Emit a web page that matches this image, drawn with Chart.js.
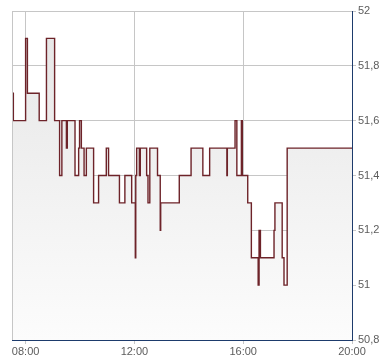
<!DOCTYPE html>
<html><head><meta charset="utf-8">
<style>html,body{margin:0;padding:0;background:#fff}</style>
<script src="https://cdn.jsdelivr.net/npm/chart.js@4/dist/chart.umd.min.js"></script>
</head><body>
<canvas id="c" width="390" height="364"></canvas>
<script>
const times = ["07:30","07:33","08:00","08:04","08:30","08:46","09:04","09:15","09:20","09:30","09:32","09:49","09:57","09:59","10:03","10:09","10:14","10:30","10:41","10:58","11:03","11:27","11:39","11:54","12:02","12:03","12:05","12:11","12:13","12:27","12:30","12:34","12:51","12:57","12:58","13:39","14:05","14:31","14:46","15:24","15:25","15:42","15:46","15:56","15:58","16:10","16:18","16:33","16:35","16:38","17:08","17:10","17:26","17:30","17:37","20:00"];
const prices = [51.7,51.6,51.9,51.7,51.6,51.9,51.6,51.4,51.6,51.5,51.6,51.4,51.5,51.6,51.5,51.4,51.5,51.3,51.4,51.5,51.4,51.3,51.4,51.3,51.1,51.4,51.5,51.4,51.5,51.4,51.3,51.5,51.4,51.2,51.3,51.4,51.5,51.4,51.5,51.4,51.5,51.6,51.4,51.6,51.4,51.3,51.1,51.0,51.2,51.1,51.2,51.3,51.1,51.0,51.5,51.5];
const xTickHours = [8,12,16,20];
const xRange = [7.5, 20];
const yRange = [50.8, 52];
const yStep = 0.2;

const toHours = t => { const [h,m] = t.split(":").map(Number); return h + m/60; };
const points = times.map((t,i) => ({x: toHours(t), y: prices[i]}));
const pad2 = n => String(n).padStart(2,"0");

const GRID = "#c6c6c6", AXIS = "#1d3b6c", TXT = "#5c5c5c";

const leftBorder = {
  id: "leftBorder",
  afterDraw(chart){
    const a = chart.chartArea, c = chart.ctx;
    c.save(); c.strokeStyle = GRID; c.lineWidth = 1;
    c.beginPath(); c.moveTo(Math.round(a.left)+0.5, a.top); c.lineTo(Math.round(a.left)+0.5, a.bottom); c.stroke();
    c.restore();
  }
};

new Chart(document.getElementById("c"), {
  type: "line",
  data: { datasets: [{
    data: points,
    stepped: true,
    borderColor: "#6d2329",
    borderWidth: 1.4,
    pointRadius: 0,
    fill: "start",
    backgroundColor: (ctx) => {
      const a = ctx.chart.chartArea;
      if (!a) return "#eeeeee";
      const g = ctx.chart.ctx.createLinearGradient(0, a.top, 0, a.bottom);
      g.addColorStop(0, "#e5e5e5");
      g.addColorStop(1, "#fcfcfc");
      return g;
    }
  }]},
  options: {
    responsive: false,
    animation: false,
    devicePixelRatio: 1,
    layout: { padding: { left: 12, top: 11, right: 0, bottom: 0 } },
    plugins: { legend: { display: false }, tooltip: { enabled: false } },
    scales: {
      x: {
        type: "linear",
        min: xRange[0], max: xRange[1],
        afterBuildTicks: s => { s.ticks = xTickHours.map(v => ({value: v})); },
        afterFit: s => { s.height = 24; },
        grid: { color: GRID, tickLength: 4, tickColor: GRID },
        border: { color: AXIS, width: 1 },
        ticks: {
          color: TXT, padding: 1, maxRotation: 0, autoSkip: false,
          font: { family: "'Liberation Sans', Arial, sans-serif", size: 11 },
          callback: v => pad2(Math.floor(v)) + ":00"
        }
      },
      y: {
        position: "right",
        min: yRange[0], max: yRange[1],
        afterFit: s => { s.width = 38; },
        grid: { color: GRID, tickLength: 4, tickColor: GRID },
        border: { color: AXIS, width: 1 },
        ticks: {
          stepSize: yStep, color: TXT, padding: 2,
          font: { family: "'Liberation Sans', Arial, sans-serif", size: 11 },
          callback: v => { const r = Math.round(v*10)/10; return (Number.isInteger(r) ? String(r) : r.toFixed(1)).replace(".", ","); }
        }
      }
    }
  },
  plugins: [leftBorder]
});
</script>
</body></html>
